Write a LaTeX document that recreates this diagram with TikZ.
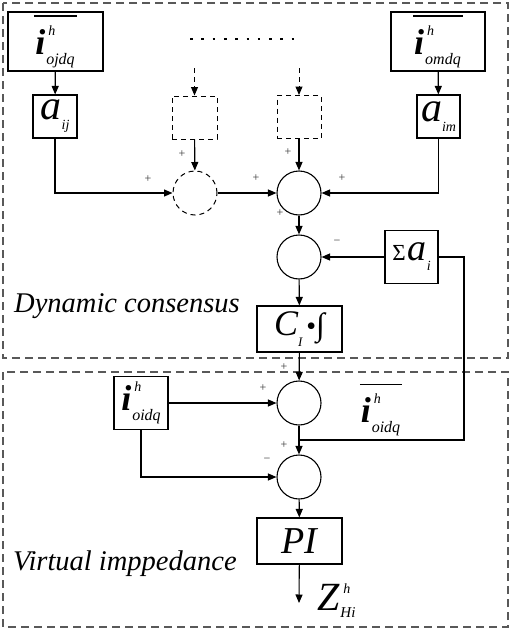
\documentclass[tikz,border=0pt]{standalone}
\usepackage{fontspec}
\setmainfont{Liberation Serif}
\usetikzlibrary{arrows.meta}
\newcommand{\fsz}[1]{\fontsize{#1}{#1}\selectfont}
\newcommand{\obar}[1]{\vbox{\hrule height 1.6pt\kern 9pt\hbox{\kern1pt#1\kern2pt}}}
\newcommand{\isym}[1]{{\bfseries\fsz{36}i}\kern1pt\rlap{\raisebox{19pt}{\kern2pt\fsz{14}h}}\raisebox{-10pt}{\fsz{16}#1}}
\begin{document}
\begin{tikzpicture}[x=1pt,y=-1pt,
  blk/.style={draw, line width=1.1pt, inner sep=0pt, font=\itshape},
  sumc/.style={draw, circle, minimum size=44pt, inner sep=0pt, line width=1.1pt},
  arr/.style={-{Triangle[length=8.5pt,width=7pt]}, line width=1.1pt},
  ln/.style={line width=1.1pt},
  dsh/.style={dash pattern=on 5pt off 4pt, line width=1pt},
  outer/.style={draw=black!65, dash pattern=on 8pt off 5pt, line width=1.1pt},
  sgn/.style={font=\fsz{12}, inner sep=0pt, text=black!80},
  big/.style={font=\itshape\fsz{28.5}, inner sep=0pt}]
\useasboundingbox (0,0) rectangle (512,629);
% outer frames
\draw[outer] (3,3) rectangle (508,358);
\draw[outer] (3,372) rectangle (508,627);
% blocks
\node[blk, minimum width=95pt, minimum height=59pt] (ioj) at (55.5,41.5) {\obar{\isym{ojdq}}};
\node[blk, minimum width=44pt, minimum height=43pt] (aij) at (55,116.5) {{\fsz{42}a}\raisebox{-10pt}{\fsz{14}ij}};
\node[blk, minimum width=94pt, minimum height=59pt] (iom) at (438,41.5) {\obar{\isym{omdq}}};
\node[blk, minimum width=43pt, minimum height=43pt] (aim) at (438.5,116.5) {{\fsz{42}a}\raisebox{-10pt}{\fsz{14}im}};
\node[blk, dsh, minimum width=45pt, minimum height=43pt] (db1) at (194.5,117.5) {};
\node[blk, dsh, minimum width=44pt, minimum height=43pt] (db2) at (299,117) {};
\node[sumc, dsh] (dc) at (195,193) {};
\node[sumc] (s1) at (299,193) {};
\node[sumc] (s2) at (299,257) {};
\node[blk, minimum width=53pt, minimum height=53pt] (sig) at (411.5,257) {{\upshape\fsz{23}Σ}\kern2pt{\fsz{38}a}\raisebox{-10pt}{\fsz{14}i}};
\node[blk, minimum width=85pt, minimum height=46pt] (ci) at (299.5,329) {{\fsz{36}C}\raisebox{-11pt}{\fsz{13}I}\kern4pt{\upshape\fsz{28}•}{\upshape\fsz{32}∫}};
\node[sumc] (s3) at (299,403) {};
\node[blk, minimum width=54pt, minimum height=53pt] (ioi) at (141,403) {\isym{oidq}};
\node[sumc] (s4) at (299,477) {};
\node[blk, minimum width=85pt, minimum height=46pt] (pi) at (299.5,541) {\fsz{38}PI};
\node[inner sep=0pt, font=\itshape] (ibar) at (381,410) {\obar{\isym{oidq}}};
\node[inner sep=0pt, font=\itshape, anchor=base west] (zl) at (317,610) {{\fsz{40}Z}\kern1pt\rlap{\raisebox{17pt}{\kern3pt\fsz{14}h}}\raisebox{-7pt}{\fsz{15}Hi}};
% texts
\node[big, anchor=base west] (t1) at (14,312) {Dynamic consensus};
\node[big, anchor=base west] (t2) at (13,570) {Virtual imppedance};
% dots
\draw[line width=2.6pt, dash pattern=on 2.6pt off 8.7pt] (190,39) -- (296,39);
% coordinates
\coordinate (d1) at (194.5,68);
\coordinate (d2) at (299,68);
\coordinate (fbc) at (464,440);
\coordinate (jn) at (299,440);
\coordinate (zout) at (299,603);
% connectors
\draw[arr] (ioj) -- (aij);
\draw[arr] (iom) -- (aim);
\draw[arr, dsh] (d1) -- (db1);
\draw[arr, dsh] (d2) -- (db2);
\draw[arr] (aij.south) |- (dc);
\draw[arr] (db1) -- (dc);
\draw[arr] (dc) -- (s1);
\draw[arr] (db2) -- (s1);
\draw[arr] (aim.south) |- (s1);
\draw[arr] (s1) -- (s2);
\draw[arr] (sig) -- (s2);
\draw[arr] (s2) -- (ci);
\draw[arr] (ci) -- (s3);
\draw[arr] (ioi) -- (s3);
\draw[arr] (s3) -- (s4);
\draw[ln] (sig.east) -| (fbc) -- (jn);
\draw[arr] (ioi.south) |- (s4);
\draw[arr] (s4) -- (pi);
\draw[arr] (pi) -- (zout);
% signs
\node[sgn] at (148,179) {+};
\node[sgn] at (182,154) {+};
\node[sgn] at (256,178) {+};
\node[sgn] at (288,152) {+};
\node[sgn] at (342,178) {+};
\node[sgn] at (280,213) {+};
\node[sgn] at (337,242) {−};
\node[sgn] at (284,367) {+};
\node[sgn] at (263,388) {+};
\node[sgn] at (284,445) {+};
\node[sgn] at (267,460) {−};
\end{tikzpicture}
\end{document}
